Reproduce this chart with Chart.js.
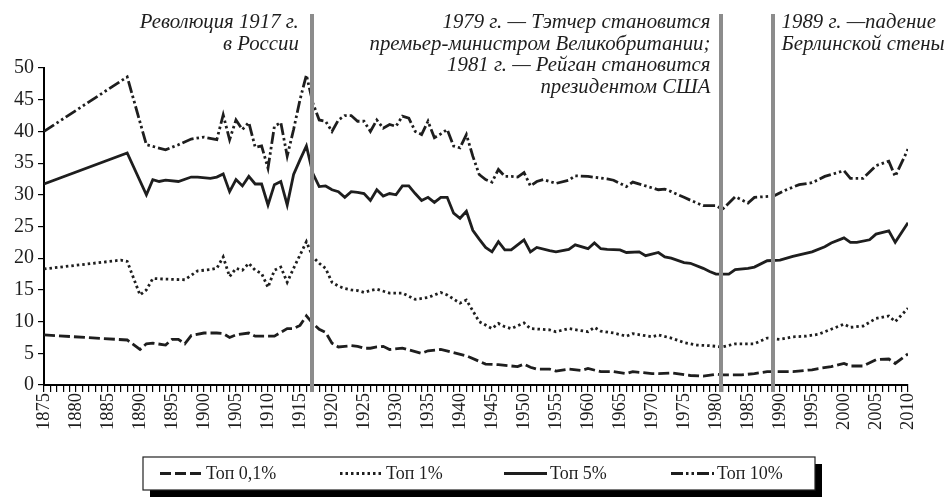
<!DOCTYPE html>
<html>
<head>
<meta charset="utf-8">
<script src="https://cdn.jsdelivr.net/npm/chart.js@4"></script>
<style>
  html, body { margin: 0; padding: 0; background: #fff; }
  #wrap { width: 947px; height: 499px; }
</style>
</head>
<body>
<div id="wrap"><canvas id="shareChart" width="947" height="499"></canvas></div>
<script>
// values, per series (year / share in %)
const years01 = [1875, 1888, 1890, 1891, 1892, 1894, 1895, 1896, 1897, 1898, 1900, 1902, 1903, 1904, 1905, 1907, 1908, 1911, 1913, 1914, 1915, 1916, 1917, 1918, 1919, 1920, 1921, 1922, 1923, 1924, 1925, 1926, 1927, 1928, 1929, 1931, 1934, 1935, 1937, 1939, 1941, 1944, 1946, 1949, 1950, 1951, 1952, 1954, 1955, 1957, 1959, 1960, 1962, 1964, 1966, 1967, 1970, 1971, 1973, 1976, 1978, 1980, 1981, 1984, 1986, 1988, 1992, 1995, 1996, 1998, 2000, 2001, 2003, 2005, 2007, 2008, 2010];
const top01 = [7.9, 7.1, 5.6, 6.5, 6.6, 6.3, 7.2, 7.2, 6.5, 7.8, 8.2, 8.2, 8.1, 7.5, 7.9, 8.2, 7.7, 7.7, 8.9, 8.9, 9.4, 10.9, 9.7, 8.8, 8.3, 6.6, 6.0, 6.1, 6.2, 6.1, 5.8, 5.8, 6.0, 6.1, 5.6, 5.8, 5.0, 5.4, 5.6, 5.1, 4.6, 3.3, 3.2, 2.9, 3.3, 2.8, 2.5, 2.5, 2.2, 2.5, 2.3, 2.6, 2.1, 2.1, 1.8, 2.1, 1.8, 1.8, 1.9, 1.5, 1.4, 1.7, 1.6, 1.6, 1.8, 2.1, 2.1, 2.4, 2.6, 2.9, 3.4, 3.0, 3.0, 4.0, 4.1, 3.4, 4.9];

const years1 = [1875, 1887, 1888, 1890, 1891, 1892, 1894, 1897, 1899, 1901, 1902, 1903, 1904, 1905, 1906, 1907, 1908, 1909, 1910, 1911, 1912, 1913, 1914, 1915, 1916, 1917, 1918, 1919, 1920, 1921, 1922, 1923, 1924, 1925, 1926, 1927, 1929, 1931, 1933, 1935, 1937, 1938, 1940, 1941, 1942, 1943, 1945, 1946, 1947, 1948, 1950, 1951, 1954, 1955, 1957, 1960, 1961, 1962, 1964, 1966, 1967, 1970, 1971, 1973, 1975, 1977, 1979, 1981, 1983, 1986, 1988, 1990, 1992, 1994, 1996, 1998, 2000, 2001, 2003, 2005, 2007, 2008, 2010];
const top1 = [18.3, 19.7, 19.5, 14.2, 15.0, 16.8, 16.7, 16.6, 18.0, 18.2, 18.4, 20.2, 17.1, 18.4, 18.1, 19.2, 18.1, 17.6, 15.4, 18.1, 18.6, 16.2, 18.4, 20.5, 22.6, 20.2, 19.2, 18.4, 16.2, 15.6, 15.2, 15.0, 14.9, 14.6, 14.9, 15.1, 14.5, 14.5, 13.5, 13.8, 14.6, 14.2, 12.9, 13.4, 11.7, 10.0, 8.9, 9.7, 9.2, 8.9, 9.8, 8.9, 8.7, 8.4, 8.9, 8.4, 9.1, 8.5, 8.2, 7.7, 8.1, 7.6, 7.9, 7.4, 6.7, 6.3, 6.2, 6.0, 6.5, 6.5, 7.4, 7.2, 7.6, 7.7, 8.0, 8.8, 9.6, 9.1, 9.3, 10.5, 10.9, 10.0, 12.1];

const years5 = [1875, 1888, 1891, 1892, 1893, 1894, 1896, 1898, 1899, 1901, 1902, 1903, 1904, 1905, 1906, 1907, 1908, 1909, 1910, 1911, 1912, 1913, 1914, 1915, 1916, 1917, 1918, 1919, 1920, 1921, 1922, 1923, 1924, 1925, 1926, 1927, 1928, 1929, 1930, 1931, 1932, 1933, 1934, 1935, 1936, 1937, 1938, 1939, 1940, 1941, 1942, 1943, 1944, 1945, 1946, 1947, 1948, 1949, 1950, 1951, 1952, 1954, 1955, 1957, 1958, 1960, 1961, 1962, 1963, 1965, 1966, 1968, 1969, 1971, 1972, 1973, 1975, 1976, 1978, 1979, 1980, 1982, 1983, 1985, 1986, 1988, 1990, 1992, 1995, 1997, 1998, 2000, 2001, 2002, 2004, 2005, 2007, 2008, 2010];
const top5 = [31.7, 36.6, 30.0, 32.4, 32.1, 32.3, 32.1, 32.8, 32.8, 32.6, 32.8, 33.3, 30.5, 32.4, 31.4, 32.9, 31.7, 31.7, 28.4, 31.6, 32.1, 28.4, 33.2, 35.5, 37.7, 33.4, 31.3, 31.4, 30.8, 30.5, 29.6, 30.5, 30.4, 30.2, 29.1, 30.8, 29.8, 30.2, 30.0, 31.4, 31.4, 30.2, 29.1, 29.6, 28.8, 29.6, 29.6, 27.1, 26.3, 27.4, 24.4, 23.0, 21.7, 21.0, 22.6, 21.3, 21.3, 22.1, 22.9, 21.0, 21.7, 21.2, 21.0, 21.4, 22.1, 21.5, 22.4, 21.5, 21.4, 21.3, 20.9, 21.0, 20.4, 20.9, 20.2, 20.0, 19.3, 19.2, 18.4, 17.9, 17.5, 17.5, 18.2, 18.4, 18.6, 19.6, 19.7, 20.3, 21.0, 21.8, 22.4, 23.2, 22.5, 22.5, 22.9, 23.8, 24.3, 22.5, 25.6];

const years10 = [1875, 1888, 1891, 1894, 1896, 1898, 1900, 1902, 1903, 1904, 1905, 1906, 1907, 1908, 1909, 1910, 1911, 1912, 1913, 1914, 1915, 1916, 1917, 1918, 1919, 1920, 1921, 1922, 1923, 1924, 1925, 1926, 1927, 1928, 1929, 1930, 1931, 1932, 1933, 1934, 1935, 1936, 1937, 1938, 1939, 1940, 1941, 1942, 1943, 1944, 1945, 1946, 1947, 1948, 1949, 1950, 1951, 1952, 1953, 1955, 1957, 1958, 1960, 1963, 1964, 1966, 1967, 1969, 1971, 1972, 1973, 1975, 1977, 1978, 1980, 1981, 1983, 1985, 1986, 1989, 1991, 1993, 1995, 1997, 2000, 2001, 2003, 2005, 2007, 2008, 2010];
const top10 = [40.0, 48.6, 37.9, 37.1, 37.9, 38.8, 39.1, 38.7, 42.6, 38.7, 41.8, 40.3, 41.4, 37.5, 37.7, 34.2, 40.8, 41.4, 36.1, 40.3, 45.0, 48.9, 44.5, 41.8, 41.6, 40.0, 41.8, 42.5, 42.5, 41.6, 41.6, 40.0, 41.8, 40.5, 41.1, 40.8, 42.4, 42.1, 40.0, 39.5, 41.6, 39.0, 39.6, 40.3, 37.7, 37.4, 39.5, 36.1, 33.2, 32.4, 32.0, 34.0, 32.9, 32.9, 32.8, 33.5, 31.4, 32.1, 32.4, 31.8, 32.3, 33.0, 32.9, 32.5, 32.3, 31.3, 32.0, 31.4, 30.8, 30.9, 30.5, 29.6, 28.7, 28.3, 28.3, 27.7, 29.7, 28.7, 29.6, 29.8, 30.8, 31.6, 31.9, 32.9, 33.8, 32.6, 32.6, 34.6, 35.3, 32.9, 37.2];

const seriesLabels = ['Топ 0,1%', 'Топ 1%', 'Топ 5%', 'Топ 10%'];
const eventYears = [1917, 1981, 1989];
const eventNotes = [
  ['Революция 1917 г.', 'в России'],
  ['1979 г. — Тэтчер становится', 'премьер-министром Великобритании;', '1981 г. — Рейган становится', 'президентом США'],
  ['1989 г. —падение', 'Берлинской стены']
];

const ink = '#1e1e1e';
const serif = "'Liberation Serif', 'DejaVu Serif', serif";

function points(xs, ys) {
  return xs.map((x, i) => ({ x: x, y: ys[i] }));
}

function line(label, data, dash, width) {
  return {
    label: label,
    data: data,
    borderColor: ink,
    backgroundColor: ink,
    borderWidth: width,
    borderDash: dash,
    borderCapStyle: 'butt',
    pointRadius: 0,
    tension: 0,
    fill: false
  };
}

// gray event lines, the notes above them and the boxed legend
const overlay = {
  id: 'overlay',
  afterDatasetsDraw(chart) {
    const ctx = chart.ctx;
    const x = chart.scales.x;
    ctx.save();
    ctx.strokeStyle = '#8c8c8c';
    ctx.lineWidth = 4;
    eventYears.forEach(yr => {
      const px = Math.round(x.getPixelForValue(yr)) - 1;
      ctx.beginPath();
      ctx.moveTo(px, 14);
      ctx.lineTo(px, 392);
      ctx.stroke();
    });
    ctx.restore();
  },
  afterDraw(chart) {
    const ctx = chart.ctx;
    const x = chart.scales.x;
    ctx.save();
    ctx.fillStyle = ink;
    ctx.font = "italic 20.8px " + serif;
    ctx.textBaseline = 'alphabetic';
    const lh = 21.6;
    eventNotes.forEach((lines, k) => {
      const px = x.getPixelForValue(eventYears[k]);
      const right = k < 2;
      ctx.textAlign = right ? 'right' : 'left';
      const tx = right ? px - (k === 0 ? 14 : 12) : px + 8;
      lines.forEach((s, j) => ctx.fillText(s, tx, 28 + j * lh));
    });

    // legend box with a hard shadow
    const bx = 143, by = 457, bw = 672, bh = 33;
    ctx.fillStyle = '#000';
    ctx.fillRect(bx + 7, by + 7, bw, bh);
    ctx.fillStyle = '#fff';
    ctx.fillRect(bx, by, bw, bh);
    ctx.strokeStyle = '#222';
    ctx.lineWidth = 1.2;
    ctx.strokeRect(bx, by, bw, bh);

    const itemX = [160, 340, 504, 671];
    const cy = by + bh / 2;
    ctx.font = "18px " + serif;
    ctx.textAlign = 'left';
    ctx.textBaseline = 'middle';
    chart.data.datasets.forEach((ds, i) => {
      ctx.save();
      ctx.strokeStyle = ink;
      ctx.lineWidth = ds.borderWidth;
      ctx.setLineDash(ds.borderDash);
      ctx.beginPath();
      ctx.moveTo(itemX[i], cy);
      ctx.lineTo(itemX[i] + 43, cy);
      ctx.stroke();
      ctx.restore();
      ctx.fillStyle = ink;
      ctx.fillText(ds.label, itemX[i] + 46, cy + 1);
    });
    ctx.restore();
  }
};

Chart.defaults.font.family = serif;
Chart.defaults.color = ink;

new Chart(document.getElementById('shareChart'), {
  type: 'line',
  data: {
    datasets: [
      line(seriesLabels[0], points(years01, top01), [11, 4], 2.8),
      line(seriesLabels[1], points(years1, top1), [2.5, 3], 2.8),
      line(seriesLabels[2], points(years5, top5), [], 2.8),
      line(seriesLabels[3], points(years10, top10), [12, 3, 2.5, 3, 2.5, 3], 2.8)
    ]
  },
  options: {
    responsive: false,
    animation: false,
    devicePixelRatio: 1,
    layout: { padding: { top: 68, right: 39, bottom: 59, left: 0 } },
    plugins: {
      legend: { display: false },
      tooltip: { enabled: false }
    },
    scales: {
      x: {
        type: 'linear',
        min: 1875,
        max: 2010,
        afterFit: s => { s.height = 55; },
        border: { color: '#000', width: 2 },
        grid: { drawOnChartArea: false, color: '#000', lineWidth: 1.2, tickLength: 7 },
        ticks: {
          stepSize: 1,
          autoSkip: false,
          minRotation: 90,
          maxRotation: 90,
          padding: 1,
          font: { size: 18.5 },
          callback: v => (v % 5 === 0 ? String(v) : '')
        }
      },
      y: {
        min: 0,
        max: 50,
        afterFit: s => { s.width = 44; },
        border: { color: '#000', width: 2 },
        grid: { drawOnChartArea: false, color: '#000', lineWidth: 1.2, tickLength: 6 },
        ticks: { stepSize: 5, padding: 4, font: { size: 20 } }
      }
    }
  },
  plugins: [overlay]
});
</script>
</body>
</html>
